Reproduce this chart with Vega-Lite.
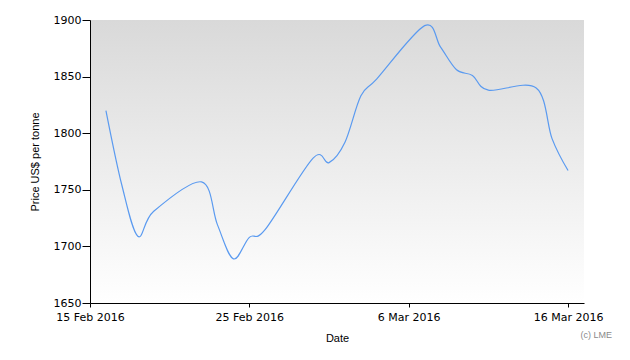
{
  "$schema": "https://vega.github.io/schema/vega-lite/v6.json",
  "autosize": "none",
  "width": 494,
  "height": 283,
  "padding": {"left": 90, "top": 20, "right": 46, "bottom": 57},
  "background": "#ffffff",
  "data": {
    "values": [
      {"date": "2016-02-16", "price": 1820},
      {"date": "2016-02-17", "price": 1754},
      {"date": "2016-02-18", "price": 1709},
      {"date": "2016-02-19", "price": 1731},
      {"date": "2016-02-22", "price": 1757},
      {"date": "2016-02-23", "price": 1719},
      {"date": "2016-02-24", "price": 1689},
      {"date": "2016-02-25", "price": 1708},
      {"date": "2016-02-26", "price": 1715},
      {"date": "2016-02-29", "price": 1778},
      {"date": "2016-03-01", "price": 1774},
      {"date": "2016-03-02", "price": 1792},
      {"date": "2016-03-03", "price": 1833},
      {"date": "2016-03-04", "price": 1848},
      {"date": "2016-03-07", "price": 1895},
      {"date": "2016-03-08", "price": 1876},
      {"date": "2016-03-09", "price": 1856},
      {"date": "2016-03-10", "price": 1851},
      {"date": "2016-03-11", "price": 1838},
      {"date": "2016-03-14", "price": 1840},
      {"date": "2016-03-15", "price": 1795},
      {"date": "2016-03-16", "price": 1767}
    ]
  },
  "title": {
    "text": "(c) LME",
    "orient": "bottom",
    "anchor": "end",
    "frame": "group",
    "font": "Liberation Sans",
    "fontSize": 9,
    "fontWeight": "normal",
    "color": "#8a8a8a",
    "dx": 28,
    "offset": -12
  },
  "mark": {"type": "line", "interpolate": "cardinal", "tension": 0, "color": "#5a9af0", "strokeWidth": 1.2, "clip": true},
  "encoding": {
    "x": {
      "field": "date",
      "type": "temporal",
      "title": "Date",
      "scale": {"type": "utc", "domain": [{"year": 2016, "month": 2, "date": 15, "utc": true}, {"year": 2016, "month": 3, "date": 17, "utc": true}]},
      "axis": {
        "values": [
          {"year": 2016, "month": 2, "date": 15, "utc": true},
          {"year": 2016, "month": 2, "date": 25, "utc": true},
          {"year": 2016, "month": 3, "date": 6, "utc": true},
          {"year": 2016, "month": 3, "date": 16, "utc": true}
        ],
        "format": "%-d %b %Y",
        "tickSize": 4,
        "labelPadding": 4,
        "titlePadding": 10,
        "labelOverlap": false,
        "labelFlush": false
      }
    },
    "y": {
      "field": "price",
      "type": "quantitative",
      "title": "Price US$ per tonne",
      "scale": {"domain": [1650, 1900], "nice": false, "zero": false},
      "axis": {
        "values": [1650, 1700, 1750, 1800, 1850, 1900],
        "format": "d",
        "tickSize": 8,
        "labelPadding": 1,
        "titlePadding": 13
      }
    }
  },
  "config": {
    "view": {
      "stroke": null,
      "fill": {
        "gradient": "linear",
        "x1": 0, "y1": 0, "x2": 0, "y2": 1,
        "stops": [
          {"offset": 0, "color": "#d9d9d9"},
          {"offset": 1, "color": "#ffffff"}
        ]
      }
    },
    "axis": {
      "grid": false,
      "domainColor": "#000000",
      "domainWidth": 1,
      "tickColor": "#000000",
      "tickWidth": 1,
      "labelFont": "DejaVu Sans",
      "labelFontSize": 11,
      "labelColor": "#000000",
      "titleFont": "Liberation Sans",
      "titleFontSize": 11,
      "titleFontWeight": "normal",
      "titleColor": "#000000"
    }
  }
}
